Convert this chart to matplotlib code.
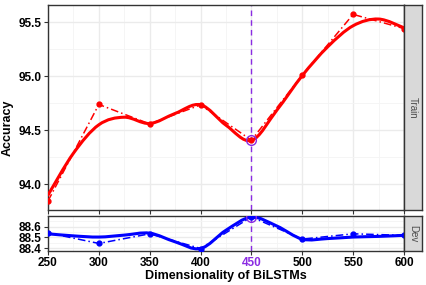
import numpy as np
import matplotlib
matplotlib.use("Agg")
import matplotlib.pyplot as plt
from matplotlib.path import Path
from matplotlib.patches import PathPatch

plt.rcParams["font.family"] = ["Liberation Sans", "DejaVu Sans"]
plt.rcParams["font.weight"] = "bold"

# data
dims = [250, 300, 350, 400, 450, 500, 550, 600]
train_acc = [93.845, 94.738, 94.558, 94.734, 94.407, 95.009, 95.571, 95.44]
dev_acc = [88.543, 88.445, 88.534, 88.398, 88.69, 88.485, 88.534, 88.52]

# smoothed trend curves, read every 25 units
smooth_dims = [250, 275, 300, 325, 350, 375, 400, 425, 450, 475, 500, 525, 550, 575, 600]
train_smooth = [93.90, 94.287, 94.55, 94.62, 94.562, 94.655, 94.735, 94.546, 94.405,
                94.685, 95.005, 95.271, 95.466, 95.528, 95.447]
dev_smooth = [88.534, 88.515, 88.504, 88.522, 88.54, 88.46, 88.398, 88.567, 88.688,
              88.606, 88.485, 88.49, 88.504, 88.51, 88.52]

best_dim = 450
xticks = [250, 300, 350, 400, 450, 500, 550, 600]
train_yticks = [94.0, 94.5, 95.0, 95.5]
dev_yticks = [88.4, 88.5, 88.6]

color_train = "#FF0000"
color_dev = "#0000FF"
color_best = "#8A2BE2"
grid_major = "#EBEBEB"
grid_minor = "#F4F4F4"
frame_color = "#333333"


def smooth_curve(ax, xs, ys, color):
    """Draw a smooth curve through the read points (Catmull-Rom as Bezier path)."""
    pts = np.column_stack([xs, ys]).astype(float)
    ext = np.vstack([pts[0], pts, pts[-1]])
    verts = [pts[0]]
    codes = [Path.MOVETO]
    for i in range(1, len(ext) - 2):
        p0, p1, p2, p3 = ext[i - 1], ext[i], ext[i + 1], ext[i + 2]
        verts += [p1 + (p2 - p0) / 6, p2 - (p3 - p1) / 6, p2]
        codes += [Path.CURVE4] * 3
    patch = PathPatch(Path(verts, codes), facecolor="none", edgecolor=color, lw=2.2,
                      capstyle="round", joinstyle="round", zorder=4)
    ax.add_patch(patch)


def style_panel(ax, yticks, minor_yticks):
    ax.set_facecolor("white")
    ax.set_xlim(250, 600)
    ax.set_xticks(xticks)
    ax.set_xticks([275, 325, 375, 425, 475, 525, 575], minor=True)
    ax.set_yticks(yticks)
    ax.set_yticks(minor_yticks, minor=True)
    ax.grid(True, which="major", color=grid_major, lw=1.0, zorder=0)
    ax.grid(True, which="minor", color=grid_minor, lw=0.6, zorder=0)
    ax.set_axisbelow(True)
    for s in ax.spines.values():
        s.set_color(frame_color)
        s.set_linewidth(1.0)
    ax.tick_params(which="major", length=3, width=0.8, color="#333333", labelsize=8.5,
                   labelcolor="black", pad=1.5)
    ax.tick_params(which="minor", length=0)


def add_strip(fig, bottom, height, label):
    sax = fig.add_axes([0.9461, bottom, 0.0415, height])
    sax.set_facecolor("#D9D9D9")
    sax.set_xticks([])
    sax.set_yticks([])
    for s in sax.spines.values():
        s.set_color(frame_color)
        s.set_linewidth(1.0)
    sax.text(0.5, 0.5, label, rotation=-90, ha="center", va="center", fontsize=7,
             fontweight="normal", color="#4D4D4D", transform=sax.transAxes)


fig = plt.figure(figsize=(4.27, 2.85), dpi=100)
ax_train = fig.add_axes([0.1124, 0.2632, 0.8337, 0.7182])
ax_dev = fig.add_axes([0.1124, 0.1204, 0.8337, 0.1207])

# train panel
style_panel(ax_train, train_yticks, [93.75, 94.25, 94.75, 95.25])
ax_train.set_ylim(93.762, 95.655)
ax_train.plot(dims, train_acc, color=color_train, ls=(0, (5, 2, 1, 2)), lw=1.1, marker="o",
              ms=3.5, zorder=3)
smooth_curve(ax_train, smooth_dims, train_smooth, color_train)
ax_train.plot([best_dim], [train_acc[dims.index(best_dim)]], ls="none", marker="o", ms=7,
              mfc="none", mec=color_best, mew=1.0, zorder=5)
ax_train.axvline(best_dim, color=color_best, ls=(0, (4, 3)), lw=1.0, zorder=2)
ax_train.tick_params(labelbottom=False)
ax_train.set_ylabel("Accuracy", fontsize=9, fontweight="bold")
ax_train.yaxis.set_label_coords(-0.097, 0.4)

# dev panel
style_panel(ax_dev, dev_yticks, [88.45, 88.55, 88.65])
ax_dev.set_ylim(88.378, 88.696)
ax_dev.plot(dims, dev_acc, color=color_dev, ls=(0, (5, 2, 1, 2)), lw=1.1, marker="o",
            ms=3.5, zorder=3)
smooth_curve(ax_dev, smooth_dims, dev_smooth, color_dev)
ax_dev.plot([best_dim], [dev_acc[dims.index(best_dim)]], ls="none", marker="o", ms=7,
            mfc="none", mec=color_best, mew=1.0, zorder=5, clip_on=True)
ax_dev.axvline(best_dim, color=color_best, ls=(0, (4, 3)), lw=1.0, zorder=2)
ax_dev.set_xticklabels([str(x) for x in xticks])
for lab, x in zip(ax_dev.get_xticklabels(), xticks):
    if x == best_dim:
        lab.set_color(color_best)
ax_dev.set_xlabel("Dimensionality of BiLSTMs", fontsize=9, fontweight="bold", labelpad=1)

add_strip(fig, 0.2632, 0.7182, "Train")
add_strip(fig, 0.1204, 0.1207, "Dev")

fig.savefig("out.png", dpi=100)
